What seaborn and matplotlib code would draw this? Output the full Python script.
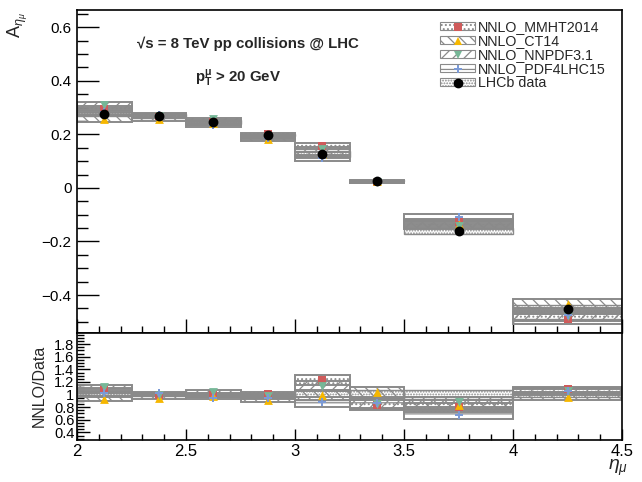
import numpy as np
import pandas as pd
import matplotlib
matplotlib.use("Agg")
import matplotlib.pyplot as plt
import seaborn as sns
from matplotlib.patches import Patch
from matplotlib.lines import Line2D
from matplotlib.legend_handler import HandlerTuple

# ---------------- data ----------------
bin_edges = [2.0, 2.25, 2.5, 2.75, 3.0, 3.25, 3.5, 4.0, 4.5]
lhcb = [0.277, 0.269, 0.246, 0.198, 0.127, 0.026, -0.161, -0.452]
lhcb_err = [0.008, 0.006, 0.006, 0.005, 0.010, 0.002, 0.012, 0.015]

mmht = [0.296, 0.269, 0.246, 0.200, 0.156, 0.0216, -0.128, -0.490]
ct14 = [0.258, 0.256, 0.241, 0.181, 0.126, 0.0270, -0.135, -0.432]
nnpdf = [0.310, 0.269, 0.256, 0.192, 0.144, 0.0222, -0.142, -0.480]
pdf4lhc = [0.282, 0.274, 0.234, 0.188, 0.112, 0.0226, -0.110, -0.475]
model_err = [0.010, 0.006, 0.006, 0.005, 0.010, 0.002, 0.012, 0.018]

model_names = ["NNLO_MMHT2014", "NNLO_CT14", "NNLO_NNPDF3.1", "NNLO_PDF4LHC15"]
model_vals = [mmht, ct14, nnpdf, pdf4lhc]
model_colors = ["#cf5b5b", "#f6b700", "#76b797", "#7b9ad6"]
model_markers = ["s", "^", "v", "P"]
model_hatch = ["....", "\\\\\\", "///", "---"]

edges = np.array(bin_edges)
centers = 0.5 * (edges[:-1] + edges[1:])
widths = np.diff(edges)
data = np.array(lhcb)
derr = np.array(lhcb_err)
merr = np.array(model_err)

# ---------------- style ----------------
sns.set_style("white")
plt.rcParams["font.family"] = ["Liberation Sans", "DejaVu Sans"]
plt.rcParams["hatch.color"] = "#808080"
plt.rcParams["hatch.linewidth"] = 0.9
plt.rcParams["mathtext.fontset"] = "custom"
plt.rcParams["mathtext.rm"] = "Liberation Sans"
plt.rcParams["mathtext.it"] = "Liberation Sans:italic"
plt.rcParams["mathtext.bf"] = "Liberation Sans:bold"

fig = plt.figure(figsize=(6.42, 4.82), dpi=100)
ax = fig.add_axes([0.12, 0.309, 0.849, 0.670])
axr = fig.add_axes([0.12, 0.087, 0.849, 0.222], sharex=ax)

band_ec = "#8a8a8a"


def draw_band(a, lo, hi, hatch, lw=1.4):
    a.bar(centers, hi - lo, bottom=lo, width=widths, align="center",
          fill=False, hatch=hatch, edgecolor=band_ec, linewidth=lw, zorder=2)


# top panel bands
for vals, h in zip(model_vals, model_hatch):
    v = np.array(vals)
    draw_band(ax, v - merr, v + merr, h)
draw_band(ax, data - derr, data + derr, "......", lw=1.0)

# ratio bands
for vals, h in zip(model_vals, model_hatch):
    v = np.array(vals)
    r1 = (v - merr) / data
    r2 = (v + merr) / data
    draw_band(axr, np.minimum(r1, r2), np.maximum(r1, r2), h)
rel = derr / np.abs(data)
draw_band(axr, 1 - rel, 1 + rel, "......", lw=1.0)

# markers via seaborn
rows = []
for name, vals in zip(model_names, model_vals):
    for c, v, d in zip(centers, vals, data):
        rows.append({"x": c, "y": v, "ratio": v / d, "model": name})
df = pd.DataFrame(rows)
pal = dict(zip(model_names, model_colors))
mk = dict(zip(model_names, model_markers))
for name in model_names:
    sub = df[df["model"] == name]
    for a, col in ((ax, "y"), (axr, "ratio")):
        sns.scatterplot(data=sub, x="x", y=col, ax=a, color=pal[name],
                        marker=mk[name], s=40, linewidth=0, zorder=4,
                        legend=False)
ddf = pd.DataFrame({"x": centers, "y": data})
sns.scatterplot(data=ddf, x="x", y="y", ax=ax, color="black", marker="o",
                s=50, linewidth=0, zorder=5, legend=False)

# axes ranges and ticks
ax.set_xlim(2, 4.5)
ax.set_ylim(-0.542, 0.664)
axr.set_ylim(0.278, 1.976)

for a in (ax, axr):
    a.tick_params(direction="in", which="both", top=False, right=False,
                  left=True, bottom=True, width=1.0, colors="black")
    for s in a.spines.values():
        s.set_linewidth(1.2)
        s.set_color("black")

ax.set_yticks([-0.4, -0.2, 0, 0.2, 0.4, 0.6])
ax.set_yticklabels(["\u22120.4", "\u22120.2", "0", "0.2", "0.4", "0.6"])
ax.set_yticks(np.arange(-0.5, 0.66, 0.05), minor=True)
ax.tick_params(axis="y", which="major", length=16, labelsize=11, pad=4)
ax.tick_params(axis="y", which="minor", length=8)
ax.tick_params(axis="x", which="major", length=10, labelbottom=False)
ax.tick_params(axis="x", which="minor", length=5)

axr.set_xticks([2, 2.5, 3, 3.5, 4, 4.5])
axr.set_xticklabels(["2", "2.5", "3", "3.5", "4", "4.5"])
axr.set_xticks(np.arange(2, 4.5, 0.1), minor=True)
axr.set_yticks([0.4, 0.6, 0.8, 1.0, 1.2, 1.4, 1.6, 1.8])
axr.set_yticklabels(["0.4", "0.6", "0.8", "1", "1.2", "1.4", "1.6", "1.8"])
axr.set_yticks(np.arange(0.3, 1.96, 0.05), minor=True)
axr.tick_params(axis="y", which="major", length=9, labelsize=10.5, pad=2)
axr.tick_params(axis="y", which="minor", length=5)
axr.tick_params(axis="x", which="major", length=8, labelsize=12, pad=3)
axr.tick_params(axis="x", which="minor", length=4)

ax.set_xlabel("")
ax.set_ylabel("")
axr.set_xlabel("")
axr.set_ylabel("")

# axis titles
fig.text(0.028, 0.975, r"A$_{\eta_{\mu}}$", rotation=90, ha="center",
         va="top", fontsize=13)
fig.text(0.962, 0.008, r"$\eta_{\mu}$", ha="center", va="bottom", fontsize=14)
fig.text(0.061, 0.20, "NNLO/Data", rotation=90, ha="center", va="center",
         fontsize=11.5)

# annotations
ax.text(0.11, 0.897, "\u221as = 8 TeV pp collisions @ LHC", transform=ax.transAxes,
        fontsize=10.8, fontweight="bold", ha="left", va="center")
ax.text(0.217, 0.79, r"$\mathbf{p_{T}^{\mu}}$ > 20 GeV", transform=ax.transAxes,
        fontsize=10.8, fontweight="bold", ha="left", va="center")

# legend
handles = []
for c, m, h in zip(model_colors, model_markers, model_hatch):
    p = Patch(facecolor="white", edgecolor=band_ec, hatch=h, linewidth=0.8)
    l = Line2D([], [], color=c, marker=m, linestyle="none", markersize=6,
               markeredgewidth=0)
    handles.append((p, l))
handles.append((Patch(facecolor="white", edgecolor=band_ec, hatch="......",
                      linewidth=0.8),
                Line2D([], [], color="black", marker="o", markersize=6,
                       linestyle="none")))
labels = model_names + ["LHCb data"]
ax.legend(handles, labels, handler_map={tuple: HandlerTuple(ndivide=1)},
          loc="upper right", bbox_to_anchor=(0.985, 0.995), frameon=False,
          fontsize=10.3, handlelength=2.4, handleheight=0.45, labelspacing=0.0,
          handletextpad=0.2, borderaxespad=0.2)

fig.savefig("out.png", dpi=100)
